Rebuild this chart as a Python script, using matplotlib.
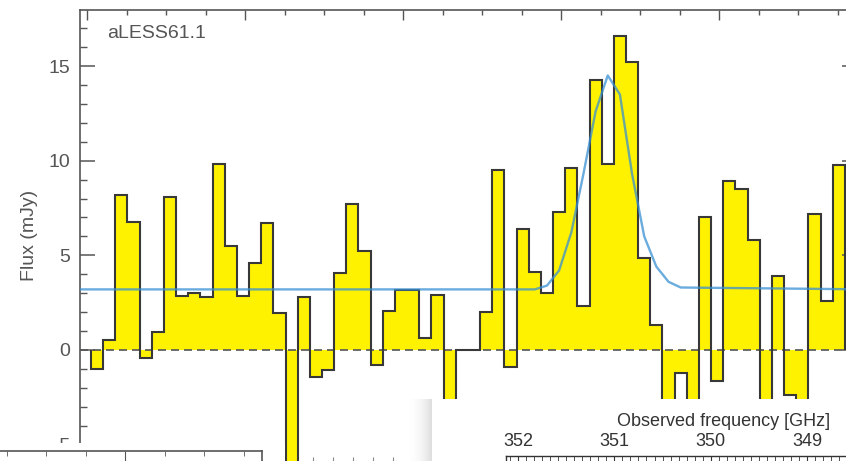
import numpy as np
import matplotlib
matplotlib.use('Agg')
import matplotlib.pyplot as plt
from matplotlib.ticker import FixedLocator, MultipleLocator
from matplotlib.colors import LinearSegmentedColormap

plt.rcParams['font.family'] = ['Liberation Sans', 'DejaVu Sans']

# flux per channel (mJy)
flux = [-1.0, 0.5, 8.2, 6.75, -0.4, 0.95, 8.1, 2.85, 3.0, 2.8,
        9.8, 5.5, 2.85, 4.6, 6.7, 1.95, -8.0, 2.8, -1.45, -1.05,
        4.05, 7.7, 5.25, -0.8, 2.05, 3.15, 3.15, 0.65, 2.9, -4.5,
        0.0, 0.0, 2.0, 9.5, -0.9, 6.4, 4.1, 3.0, 7.3, 9.6,
        2.3, 14.25, 9.85, 16.6, 15.2, 4.85, 1.3, -4.0, -1.2, -4.5,
        7.05, -1.65, 8.95, 8.5, 5.8, -4.0, 3.9, -2.4, -3.5, 7.2,
        2.6, 9.75]
edges = np.arange(len(flux) + 1)

# line + continuum model, sampled at channel centres
fit_chan = [-1, 36.5, 37.5, 38.5, 39.5, 40.5, 41.5, 42.5, 43.5, 44.5,
            45.5, 46.5, 47.5, 48.5, 64]
fit_flux = [3.2, 3.2, 3.4, 4.2, 6.2, 9.3, 12.6, 14.5, 13.5, 9.3,
            6.0, 4.4, 3.6, 3.3, 3.2]

yticks = [-5, 0, 5, 10, 15]
freq_ticks = [352, 351, 350, 349]

W, H = 846, 461
fig = plt.figure(figsize=(W / 100, H / 100), dpi=100)


def box(x0, y0, x1, y1):
    # pixel box (top-left origin) -> figure fraction
    return [x0 / W, 1 - y1 / H, (x1 - x0) / W, (y1 - y0) / H]


def blank(a):
    # white card with no frame or ticks
    a.set_facecolor('white')
    a.set_xticks([])
    a.set_yticks([])
    for s in a.spines.values():
        s.set_visible(False)


gray = '#555555'

# main spectrum panel
ax = fig.add_axes(box(80, 10, 857, 473))
ax.stairs(flux, edges, baseline=0, fill=True, color='#fff200', lw=0, zorder=1)
ax.axhline(0, color=gray, lw=1.2, dashes=(4.8, 3), zorder=2)
ax.stairs(flux, edges, baseline=0, color='#383838', lw=1.5, zorder=3)
ax.plot(fit_chan, fit_flux, color='#3890d3', alpha=0.75, lw=1.7, zorder=4)
ax.set_xlim(-0.905, 63.0)
ax.set_ylim(-6.5, 17.96)

ax.set_yticks(yticks)
ax.yaxis.set_minor_locator(MultipleLocator(1))
ax.xaxis.set_major_locator(FixedLocator(np.arange(-0.33, 64, 13)))
ax.xaxis.set_minor_locator(FixedLocator(np.arange(-0.33, 64, 3.25)))
ax.tick_params(axis='x', which='both', direction='in', top=True, bottom=True,
               labelbottom=False, labeltop=False, color=gray)
ax.tick_params(axis='x', which='major', length=7, width=1)
ax.tick_params(axis='x', which='minor', length=3.5, width=1)
ax.tick_params(axis='y', which='both', direction='in', left=True, right=True,
               labelsize=14, labelcolor=gray, color=gray, pad=7)
ax.tick_params(axis='y', which='major', length=11, width=1.1)
ax.tick_params(axis='y', which='minor', length=5, width=1)
for s in ax.spines.values():
    s.set_color(gray)
    s.set_linewidth(1.2)

ax.set_ylabel('Flux (mJy)', fontsize=14, color=gray)
ax.yaxis.set_label_coords(-0.054, 0.514)
fig.text(107 / W, 1 - 34 / H, 'aLESS61.1', ha='left', va='center',
         fontsize=14, color=gray)

# bottom-left overlapping panel
pl = fig.add_axes(box(0, 443, 285, 461))
blank(pl)
pl.set_zorder(5)
pl2 = fig.add_axes(box(-50, 451, 262, 520))
pl2.set_zorder(6)
pl2.set_xlim(-50, 262)
pl2.set_yticks([])
pl2.xaxis.set_major_locator(FixedLocator([125]))
pl2.xaxis.set_minor_locator(FixedLocator(np.arange(125 - 4 * 39.5, 262, 39.5)))
pl2.tick_params(axis='x', which='both', direction='in', top=True, bottom=False,
                labeltop=False, labelbottom=False, color=gray)
pl2.tick_params(axis='x', which='major', length=7)
pl2.tick_params(axis='x', which='minor', length=3.5)
for s in pl2.spines.values():
    s.set_color(gray)
    s.set_linewidth(1.2)

# faint ticks of another panel peeking at the bottom
pm = fig.add_axes(box(300, 463, 432, 520))
pm.set_zorder(4)
pm.set_facecolor('none')
pm.set_xlim(300, 432)
pm.set_yticks([])
pm.xaxis.set_major_locator(FixedLocator(np.arange(313, 432, 20)))
pm.tick_params(axis='x', direction='out', top=True, bottom=False, length=4,
               labeltop=False, labelbottom=False, color='#888888')
for s in pm.spines.values():
    s.set_visible(False)

# soft shadow left of the bottom-right panel
sh = fig.add_axes(box(408, 399, 432, 461))
sh.set_zorder(5)
sh.imshow(np.linspace(0, 1, 50)[None, :] ** 2, aspect='auto',
          cmap=LinearSegmentedColormap.from_list('sh', ['#ffffff', '#dedede']))
sh.axis('off')

# bottom-right overlapping panel with frequency axis
pr = fig.add_axes(box(432, 399, 846, 461))
blank(pr)
pr.set_zorder(5)
fa = fig.add_axes(box(506, 456, 860, 520))
fa.set_zorder(6)
fa.set_xlim(352.125, 348.45)
fa.set_yticks([])
fa.set_xticks(freq_ticks)
fa.xaxis.set_minor_locator(MultipleLocator(1 / 12))
fa.tick_params(axis='x', which='both', direction='in', top=True, bottom=False,
               labeltop=True, labelbottom=False, color='#333333',
               labelsize=13, labelcolor='#333333', pad=4)
fa.tick_params(axis='x', which='major', length=4.5)
fa.tick_params(axis='x', which='minor', length=4)
for s in fa.spines.values():
    s.set_color('#333333')
    s.set_linewidth(1)
fig.text(724 / W, 1 - 421 / H, 'Observed frequency [GHz]', ha='center',
         va='center', fontsize=13, color='#333333', zorder=10)

fig.savefig('out.png', dpi=100)
